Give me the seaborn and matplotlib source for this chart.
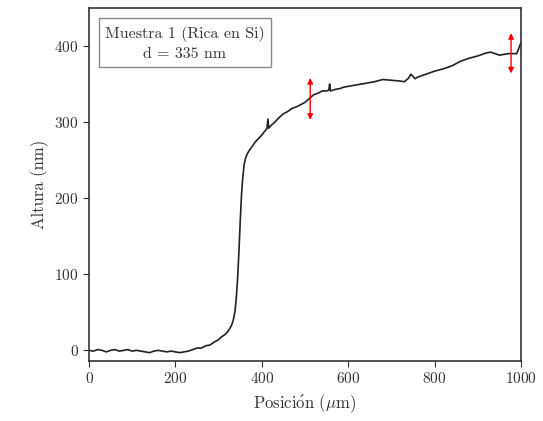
import matplotlib
matplotlib.use("Agg")
import matplotlib.pyplot as plt
import pandas as pd
import seaborn as sns

posicion = [0, 10, 20, 30, 40, 50, 60, 70, 80, 90, 100, 110, 120, 130, 140, 150,
            160, 170, 180, 190, 200, 210, 220, 230, 240, 250, 260, 270, 280, 290,
            300, 305, 310, 315, 320, 325, 330, 334, 338, 341, 344, 347, 350, 353,
            356, 359, 362, 366, 370, 375, 380, 385, 390, 395, 400, 405, 410, 412,
            414, 416, 420, 430, 440, 450, 460, 470, 480, 490, 500, 510, 520, 530,
            540, 550, 555, 557, 559, 570, 580, 590, 600, 620, 640, 660, 680, 700,
            720, 730, 740, 745, 750, 755, 760, 780, 800, 820, 840, 860, 880, 900,
            920, 930, 940, 950, 960, 970, 980, 990, 1000, 1000]
altura = [0, -1, 1, 0, -2, 0, 1, -1, 0, 1, -1, 0, -1, -2, -3, -1,
          0, -1, -2, -1, -2, -3, -2, -1, 1, 3, 3, 6, 7, 11,
          14, 17, 19, 21, 24, 28, 33, 40, 52, 70, 95, 130, 170, 205,
          228, 244, 252, 258, 262, 266, 270, 274, 277, 280, 283, 287, 290, 292,
          304, 292, 295, 300, 306, 311, 314, 318, 320, 323, 326, 331, 336, 338,
          341, 341, 342, 350, 341, 343, 344, 346, 347, 349, 351, 353, 356, 355,
          354, 353, 358, 363, 360, 357, 359, 363, 367, 370, 374, 380, 384, 387,
          391, 392, 390, 388, 389, 390, 390, 390, 391, 418]

# Flechas rojas (marcas del escalón)
flecha_x = [512, 977]
flecha_y0 = [303, 364]
flecha_y1 = [358, 417]

df = pd.DataFrame({"pos": posicion, "alt": altura})

sns.set_style("ticks")
plt.rcParams["font.family"] = ["cmr10", "DejaVu Serif"]
plt.rcParams["mathtext.fontset"] = "cm"
plt.rcParams["axes.formatter.use_mathtext"] = True

fig = plt.figure(figsize=(5.43, 4.21), dpi=100)
ax = fig.add_axes([0.164, 0.1425, 0.7955, 0.8385])

sns.lineplot(data=df, x="pos", y="alt", sort=False, color="#222222",
             linewidth=1.2, ax=ax)

for x, y0, y1 in zip(flecha_x, flecha_y0, flecha_y1):
    ax.annotate("", xy=(x, y1), xytext=(x, y0),
                arrowprops=dict(arrowstyle="<|-|>", color="red", lw=1.0,
                                mutation_scale=8, shrinkA=0, shrinkB=0))

ax.set_xlim(0, 1000)
ax.set_ylim(-14, 450)
ax.set_xticks([0, 200, 400, 600, 800, 1000])
ax.set_yticks([0, 100, 200, 300, 400])
ax.set_xlabel(r"Posici$\mathrm{\acute{o}}$n ($\mu$m)", fontsize=12, color="#333333")
ax.set_ylabel("Altura (nm)", fontsize=12, color="#333333")
ax.tick_params(labelsize=11, colors="#333333", direction="out", length=4)
for s in ax.spines.values():
    s.set_color("#333333")
    s.set_linewidth(1.2)

ax.text(0.222, 0.90, "Muestra 1 (Rica en Si)\nd = 335 nm", transform=ax.transAxes,
        ha="center", va="center", fontsize=11.5, color="#333333", linespacing=1.5,
        bbox=dict(boxstyle="square,pad=0.4", facecolor="white", edgecolor="#888888"))

fig.savefig("out.png", dpi=100)
